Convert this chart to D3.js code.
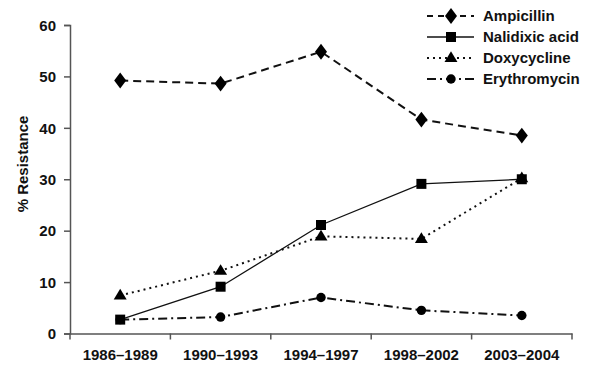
<!DOCTYPE html>
<html><head><meta charset="utf-8">
<script src="https://cdn.jsdelivr.net/npm/d3@7"></script>
<style>
body{margin:0;background:#fff;}
text{font-family:"Liberation Sans",Arial,sans-serif;fill:#111;font-weight:bold;}
</style></head>
<body><svg id="c" width="600" height="378"></svg>
<script>
const categories = ["1986–1989","1990–1993","1994–1997","1998–2002","2003–2004"];
const ampicillin   = [49.2, 48.6, 54.8, 41.6, 38.5];
const nalidixic    = [2.7, 9.1, 21.1, 29.1, 30.0];
const doxycycline  = [7.4, 12.2, 18.9, 18.4, 30.2];
const erythromycin = [2.7, 3.2, 7.0, 4.5, 3.5];
const seriesNames  = ["Ampicillin","Nalidixic acid","Doxycycline","Erythromycin"];
const yTicks = [0,10,20,30,40,50,60];

const series = [
  {name: seriesNames[0], values: ampicillin,   dash: "8,5",  width: 2,   sym: "diamond"},
  {name: seriesNames[1], values: nalidixic,    dash: null,   width: 1.3, sym: "square"},
  {name: seriesNames[2], values: doxycycline,  dash: "2,4",  width: 2,   sym: "triangle"},
  {name: seriesNames[3], values: erythromycin, dash: "9,4,2,4", width: 2, sym: "circle"}
];

const svg = d3.select("#c");
const x = d3.scaleBand().domain(categories).range([70, 572]).padding(0);
const y = d3.scaleLinear().domain([0, 60]).range([333.5, 25]);
const axisColor = "#555";

// Y axis
const yAxis = svg.append("g").attr("transform","translate(70,0)")
  .call(d3.axisLeft(y).tickValues(yTicks).tickSize(6).tickPadding(8));
yAxis.select(".domain").attr("stroke",axisColor).attr("stroke-width",1.5);
yAxis.selectAll(".tick line").attr("stroke",axisColor).attr("stroke-width",1.5);
yAxis.selectAll("text").style("font-size","15px").attr("fill","#111").attr("dy","0.35em");

// X axis
const xAxis = svg.append("g").attr("transform",`translate(0,${y(0)})`)
  .call(d3.axisBottom(x).tickSize(0).tickPadding(16));
xAxis.select(".domain").attr("stroke",axisColor).attr("stroke-width",1.5);
xAxis.selectAll("text").style("font-size","15px").attr("fill","#111");
const bounds = [x(categories[0])].concat(categories.map(c => x(c) + x.bandwidth()));
xAxis.selectAll("line.bt").data(bounds).join("line").attr("class","bt")
  .attr("x1",d=>d).attr("x2",d=>d).attr("y1",0).attr("y2",6)
  .attr("stroke",axisColor).attr("stroke-width",1.5);

// Y title
svg.append("text").attr("transform","translate(28,164) rotate(-90)")
  .attr("text-anchor","middle").style("font-size","15px").text("% Resistance");

const cx = c => x(c) + x.bandwidth()/2;
const symType = {diamond: d3.symbolDiamond, square: d3.symbolSquare, triangle: d3.symbolTriangle, circle: d3.symbolCircle};
const symSize = {diamond: 80, square: 100, triangle: 66, circle: 70};

function drawSymbol(g, sym, px, py) {
  const s = g.append("path").attr("d", d3.symbol().type(symType[sym]).size(symSize[sym])())
    .attr("fill","#000");
  if (sym === "diamond") s.attr("transform",`translate(${px},${py}) scale(1.25,0.95)`);
  else if (sym === "triangle") s.attr("transform",`translate(${px},${py+0.5}) scale(1.05,1)`);
  else s.attr("transform",`translate(${px},${py})`);
}

const line = d3.line().x((d,i)=>cx(categories[i])).y(d=>y(d));
series.forEach(s => {
  const p = svg.append("path").datum(s.values).attr("d", line)
    .attr("fill","none").attr("stroke","#111").attr("stroke-width", s.width);
  if (s.dash) p.attr("stroke-dasharray", s.dash);
});
series.forEach(s => {
  const g = svg.append("g");
  s.values.forEach((v,i) => drawSymbol(g, s.sym, cx(categories[i]), y(v)));
});

// Legend
const lg = svg.append("g");
series.forEach((s,i) => {
  const ly = 16 + i*21;
  const l = lg.append("line").attr("x1",427).attr("x2",474).attr("y1",ly).attr("y2",ly)
    .attr("stroke","#111").attr("stroke-width", s.width);
  if (s.dash) l.attr("stroke-dasharray", s.dash === "8,5" ? "6,5" : s.dash);
  drawSymbol(lg, s.sym, 451, ly);
  lg.append("text").attr("x",483).attr("y",ly).attr("dy","0.35em")
    .style("font-size","15px").text(s.name);
});
</script></body></html>
